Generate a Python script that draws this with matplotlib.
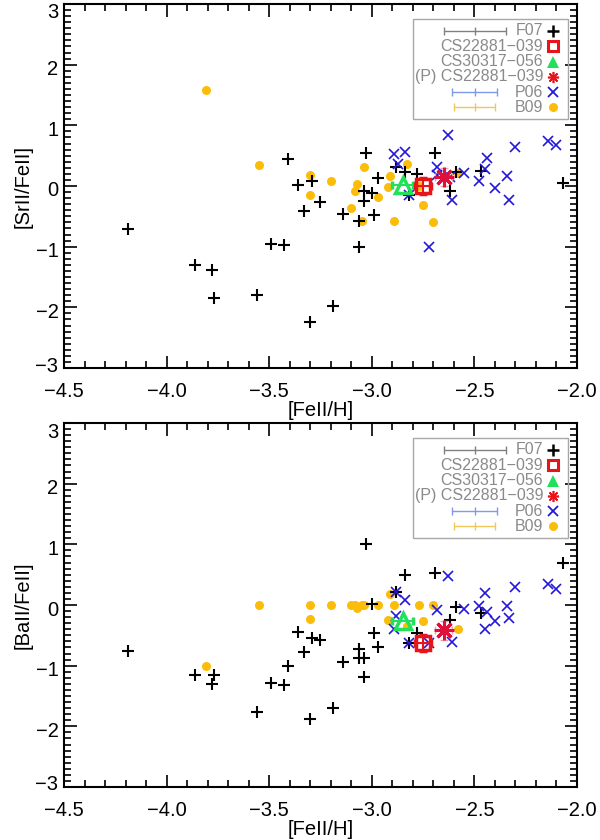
import numpy as np
import matplotlib
matplotlib.use("Agg")
import matplotlib.pyplot as plt
import matplotlib.transforms as mtransforms
from matplotlib.ticker import MultipleLocator, FuncFormatter

plt.rcParams['font.family'] = ['Liberation Sans', 'DejaVu Sans']

# F07 (black plus)
f07_feh = [-4.19, -3.86, -3.78, -3.77, -3.56, -3.49, -3.43, -3.41, -3.36, -3.33,
           -3.30, -3.29, -3.25, -3.19, -3.14, -3.06, -3.06, -3.04, -3.04, -3.03,
           -3.00, -2.99, -2.97, -2.88, -2.84, -2.82, -2.78, -2.69, -2.62, -2.59,
           -2.47, -2.07]
f07_sr = [-0.71, -1.30, -1.38, -1.85, -1.80, -0.95, -0.98, 0.45, 0.02, -0.42,
          -2.24, 0.08, -0.27, -1.98, -0.46, -1.00, -0.58, -0.08, -0.24, 0.54,
          -0.11, -0.48, 0.14, 0.32, 0.23, -0.15, 0.19, 0.54, -0.09, 0.23,
          0.25, 0.05]
f07_ba = [-0.76, -1.16, -1.30, -1.15, -1.77, -1.29, -1.32, -1.00, -0.45, -0.78,
          -1.88, -0.54, -0.58, -1.69, -0.94, -0.73, -0.88, -0.88, -1.18, 1.01,
          0.02, -0.46, -0.70, 0.22, 0.49, -0.63, -0.46, 0.52, -0.24, -0.04,
          -0.14, 0.69]

# B09 (orange dots)
b09_feh = [-3.81, -3.55, -3.30, -3.30, -3.20, -3.10, -3.08, -3.07, -3.05, -3.04,
           -2.97, -2.92, -2.91, -2.89, -2.83, -2.77, -2.75, -2.70, -2.58]
b09_sr = [1.59, 0.34, 0.18, -0.15, 0.09, -0.36, -0.09, 0.04, -0.57, 0.31,
          -0.18, -0.02, 0.16, -0.57, 0.37, 0.00, -0.32, -0.60, 0.21]
b09_ba = [-1.00, 0.00, 0.00, -0.23, 0.00, 0.00, 0.00, -0.05, 0.00, 0.00,
          0.00, -0.25, 0.18, 0.00, -0.35, 0.00, -0.27, 0.00, -0.40]

# P06 (blue crosses)
p06_feh_sr = [-2.63, -2.89, -2.84, -2.87, -2.82, -2.68, -2.68, -2.62, -2.61, -2.55,
              -2.72, -2.44, -2.45, -2.48, -2.40, -2.34, -2.33, -2.30, -2.14, -2.10]
p06_sr = [0.84, 0.53, 0.56, 0.37, -0.15, 0.32, 0.18, 0.15, -0.23, 0.21,
          -1.01, 0.46, 0.28, 0.08, -0.03, 0.17, -0.23, 0.64, 0.75, 0.67]
p06_feh_ba = [-2.63, -2.88, -2.84, -2.88, -2.89, -2.82, -2.72, -2.68, -2.61, -2.55,
              -2.45, -2.48, -2.44, -2.40, -2.45, -2.34, -2.33, -2.30, -2.14, -2.10]
p06_ba = [0.48, 0.22, 0.09, -0.18, -0.40, -0.63, -0.63, -0.08, -0.61, -0.07,
          0.20, -0.02, -0.11, -0.27, -0.40, -0.01, -0.22, 0.29, 0.35, 0.27]

# individual stars: [FeII/H], [Sr/Fe], [Ba/Fe]
cs22881_feh, cs22881_sr, cs22881_ba = -2.75, 0.00, -0.62
cs30317_feh, cs30317_sr, cs30317_ba = -2.85, 0.01, -0.27
cs22881p_feh, cs22881p_sr, cs22881p_ba = -2.65, 0.15, -0.42

legend_labels = ['F07', 'CS22881\u2212039', 'CS30317\u2212056',
                 '(P) CS22881\u2212039', 'P06', 'B09']
legend_err = {'F07': 0.15, 'P06': 0.11, 'B09': 0.10}

BLACK = 'black'
RED = '#e8141c'
GREEN = '#22e05a'
CRIMSON = '#e0103c'
BLUE = '#2418d8'
GOLD = '#fbbd0a'


def fmt_x(v, pos):
  return ('%.1f' % v).replace('-', '\u2212')


def fmt_y(v, pos):
  return ('%d' % round(v)).replace('-', '\u2212')


def draw_panel(fig, ax, y_f07, y_b09, x_p06, y_p06, y_sq, y_tri, y_ast, ylabel):
  ax.plot(f07_feh, y_f07, '+', color=BLACK, ms=9, mew=1.5, zorder=3)
  ax.plot(b09_feh, y_b09, 'o', color=GOLD, ms=6.5, mew=0, zorder=2)
  ax.plot(x_p06, y_p06, 'x', color=BLUE, ms=7, mew=1.2, zorder=3)

  ax.errorbar(cs30317_feh, y_tri, xerr=0.05, fmt='^', color=GREEN, mfc='none',
              ms=11, mew=2.5, elinewidth=1.5, capsize=3, zorder=4)
  ax.errorbar(cs22881_feh, y_sq, xerr=0.04, yerr=0.13, fmt='s', color=RED,
              mfc='none', ms=10, mew=2.5, elinewidth=1.5, capsize=3, zorder=4)
  ax.errorbar(cs22881p_feh, y_ast, xerr=0.04, yerr=0.15, fmt='none',
              ecolor='#f2a0b0', elinewidth=1.2, capsize=3, zorder=4)
  ax.plot(cs22881p_feh, y_ast, marker=(8, 2, 0), color=CRIMSON, ms=14,
          mew=2.2, ls='none', zorder=5)

  ax.set_xlim(-4.5, -2.0)
  ax.set_ylim(-3.0, 3.0)
  ax.xaxis.set_major_locator(MultipleLocator(0.5))
  ax.xaxis.set_minor_locator(MultipleLocator(0.1))
  ax.yaxis.set_major_locator(MultipleLocator(1))
  ax.yaxis.set_minor_locator(MultipleLocator(0.1))
  ax.xaxis.set_major_formatter(FuncFormatter(fmt_x))
  ax.yaxis.set_major_formatter(FuncFormatter(fmt_y))
  ax.tick_params(which='both', direction='in', top=True, right=True,
                 width=1.2, labelsize=14.5)
  ax.tick_params(axis='x', which='major', pad=10)
  ax.tick_params(axis='y', which='major', pad=4)
  ax.tick_params(which='major', length=9)
  ax.tick_params(which='minor', length=5)
  for sp in ax.spines.values():
    sp.set_linewidth(1.5)

  # IDL-like: y tick labels nudged inside the axis range
  locs = ax.yaxis.get_majorticklocs()
  for tick, loc in zip(ax.yaxis.get_major_ticks(len(locs)), locs):
    dy = 3
    if loc >= 3:
      dy = 7
    elif loc <= -3:
      dy = -4
    shift = mtransforms.ScaledTranslation(0, -dy / 100, fig.dpi_scale_trans)
    tick.label1.set_transform(tick.label1.get_transform() + shift)

  ax.set_xlabel('[FeII/H]', fontsize=14.5, labelpad=0)
  ax.set_ylabel(ylabel, fontsize=14.5, labelpad=2)

  # legend box drawn by hand
  ax.add_patch(plt.Rectangle((0.680, 0.684), 0.302, 0.275, transform=ax.transAxes,
                             fill=False, ec='#a8a8a8', lw=1.0, zorder=6))
  rows = [0.926, 0.884, 0.842, 0.800, 0.758, 0.716]
  syms = [dict(marker='+', color=BLACK, ms=8, mew=1.8, mfc='none'),
          dict(marker='s', color=RED, ms=7, mew=2.2, mfc='none'),
          dict(marker='^', color=GREEN, ms=8, mew=0, mfc=GREEN),
          dict(marker=(8, 2, 0), color=RED, ms=8, mew=1.2, mfc='none'),
          dict(marker='x', color=BLUE, ms=6.5, mew=1.3, mfc='none'),
          dict(marker='o', color=GOLD, ms=6.5, mew=0, mfc=GOLD)]
  err_cols = {'F07': '#808080', 'P06': '#7f9ae8', 'B09': '#f0c85a'}
  for lab, yy, sym in zip(legend_labels, rows, syms):
    ax.plot([0.953], [yy], transform=ax.transAxes, ls='none', zorder=7,
            clip_on=False, **sym)
    ax.text(0.934, yy, lab, transform=ax.transAxes, ha='right', va='center',
            fontsize=11.5, color='#8a8a8a', zorder=7)
    if lab in legend_err:
      hw = legend_err[lab] / 2.5
      ax.errorbar([0.801], [yy], xerr=[hw], fmt='none',
                  ecolor=err_cols[lab], elinewidth=1.0, capsize=3,
                  transform=ax.transAxes, zorder=7)
      ax.plot([0.801], [yy], marker='|', ms=6, mew=1.0, color=err_cols[lab],
              transform=ax.transAxes, zorder=7)


fig = plt.figure(figsize=(6, 8.4), dpi=100)
ax1 = fig.add_axes([64 / 600, 1 - 368 / 840, 513 / 600, 364 / 840])
ax2 = fig.add_axes([64 / 600, 1 - 787 / 840, 513 / 600, 364 / 840])

draw_panel(fig, ax1, f07_sr, b09_sr, p06_feh_sr, p06_sr,
           cs22881_sr, cs30317_sr, cs22881p_sr, '[SrII/FeII]')
draw_panel(fig, ax2, f07_ba, b09_ba, p06_feh_ba, p06_ba,
           cs22881_ba, cs30317_ba, cs22881p_ba, '[BaII/FeII]')

fig.savefig('out.png', dpi=100)
